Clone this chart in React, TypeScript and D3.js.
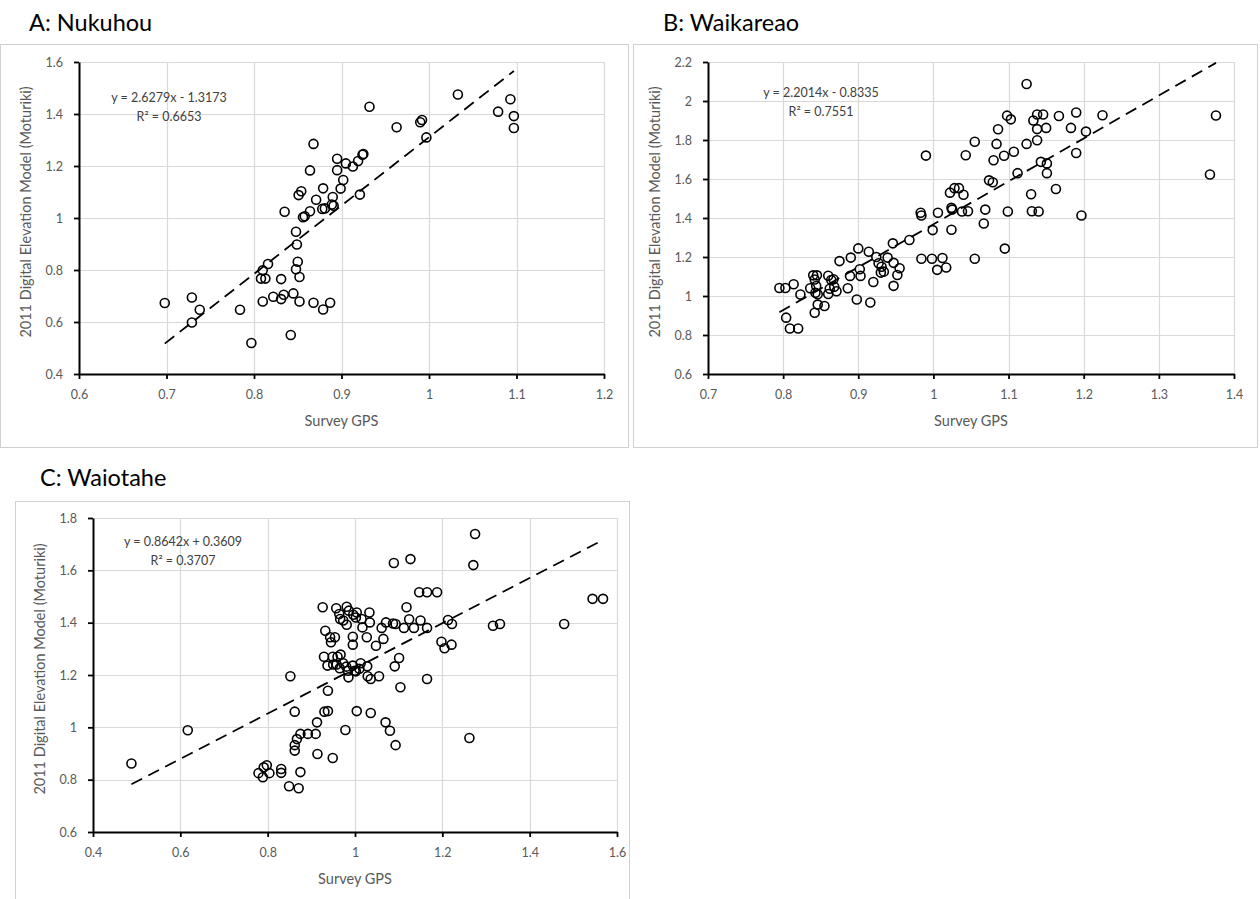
import React, { useEffect, useRef } from "react";
import * as d3 from "d3";

// [Survey GPS, DEM] pairs
const nukuhouPoints = [
  [0.698, 0.673], [0.729, 0.694], [0.729, 0.598], [0.738, 0.647], [0.784, 0.647], [0.797, 0.519],
  [0.810, 0.799], [0.808, 0.767], [0.813, 0.767], [0.816, 0.823], [0.810, 0.679], [0.822, 0.697],
  [0.831, 0.765], [0.831, 0.688], [0.834, 0.705], [0.835, 1.024], [0.845, 0.710], [0.842, 0.550],
  [0.848, 0.947], [0.849, 0.898], [0.850, 0.832], [0.848, 0.803], [0.852, 0.773], [0.852, 0.679],
  [0.851, 1.088], [0.854, 1.103], [0.856, 1.003], [0.858, 1.007], [0.864, 1.026], [0.864, 1.183],
  [0.868, 1.285], [0.871, 1.070], [0.868, 0.674], [0.878, 1.035], [0.881, 1.037], [0.879, 1.114],
  [0.879, 0.648], [0.887, 0.674], [0.889, 1.052], [0.890, 1.081], [0.891, 1.047], [0.895, 1.228],
  [0.895, 1.184], [0.899, 1.113], [0.902, 1.146], [0.905, 1.210], [0.913, 1.198], [0.919, 1.219],
  [0.924, 1.243], [0.925, 1.246], [0.921, 1.090], [0.932, 1.428], [0.963, 1.349], [0.990, 1.368],
  [0.992, 1.377], [0.997, 1.310], [1.033, 1.475], [1.079, 1.409], [1.093, 1.457], [1.097, 1.392],
  [1.097, 1.346],
];

const waikareaoPoints = [
  [0.795, 1.041], [0.803, 1.041], [0.804, 0.889], [0.809, 0.833], [0.820, 0.833], [0.814, 1.060],
  [0.823, 1.008], [0.836, 1.040], [0.840, 1.106], [0.845, 1.106], [0.842, 1.085], [0.844, 1.051],
  [0.843, 1.017], [0.846, 1.009], [0.846, 0.956], [0.842, 0.914], [0.855, 0.949], [0.860, 1.104],
  [0.860, 1.010], [0.862, 1.037], [0.864, 1.082], [0.867, 1.086], [0.868, 1.048], [0.871, 1.024],
  [0.875, 1.179], [0.886, 1.040], [0.889, 1.103], [0.890, 1.197], [0.898, 0.982], [0.900, 1.244],
  [0.902, 1.137], [0.903, 1.103], [0.916, 0.967], [0.914, 1.227], [0.920, 1.072], [0.924, 1.200],
  [0.927, 1.168], [0.930, 1.120], [0.931, 1.150], [0.934, 1.125], [0.939, 1.197], [0.947, 1.170],
  [0.947, 1.052], [0.946, 1.270], [0.952, 1.108], [0.955, 1.142], [0.968, 1.287], [0.983, 1.427],
  [0.984, 1.413], [0.984, 1.191], [0.990, 1.720], [0.998, 1.191], [0.999, 1.338], [1.006, 1.427],
  [1.005, 1.134], [1.012, 1.195], [1.017, 1.146], [1.022, 1.530], [1.024, 1.452], [1.025, 1.443],
  [1.024, 1.340], [1.028, 1.553], [1.034, 1.553], [1.040, 1.519], [1.038, 1.433], [1.046, 1.435],
  [1.043, 1.722], [1.055, 1.791], [1.055, 1.191], [1.067, 1.372], [1.069, 1.443], [1.074, 1.593],
  [1.079, 1.583], [1.080, 1.696], [1.084, 1.780], [1.086, 1.855], [1.095, 1.243], [1.094, 1.719],
  [1.098, 1.925], [1.103, 1.906], [1.099, 1.433], [1.107, 1.740], [1.112, 1.630], [1.124, 2.087],
  [1.124, 1.780], [1.130, 1.522], [1.131, 1.435], [1.133, 1.900], [1.138, 1.799], [1.138, 1.856],
  [1.138, 1.931], [1.140, 1.433], [1.143, 1.688], [1.146, 1.931], [1.150, 1.862], [1.151, 1.680],
  [1.151, 1.630], [1.163, 1.549], [1.167, 1.923], [1.183, 1.862], [1.190, 1.941], [1.190, 1.733],
  [1.197, 1.413], [1.203, 1.843], [1.225, 1.927], [1.368, 1.623], [1.376, 1.926],
];

const waiotahePoints = [
  [0.488, 0.862], [0.617, 0.989], [0.779, 0.825], [0.789, 0.809], [0.791, 0.847], [0.798, 0.855],
  [0.804, 0.825], [0.831, 0.841], [0.831, 0.826], [0.849, 0.775], [0.871, 0.767], [0.875, 0.829],
  [0.852, 1.195], [0.862, 1.060], [0.862, 0.911], [0.862, 0.932], [0.867, 0.955], [0.875, 0.975],
  [0.892, 0.975], [0.910, 0.975], [0.913, 1.019], [0.914, 0.898], [0.930, 1.060], [0.938, 1.062],
  [0.949, 0.883], [0.938, 1.140], [0.978, 0.990], [1.004, 1.062], [1.036, 1.055], [1.070, 1.019],
  [1.080, 0.987], [1.093, 0.932], [1.262, 0.959],
  [0.926, 1.459], [0.932, 1.369], [0.943, 1.344], [0.945, 1.325], [0.954, 1.344], [0.929, 1.270],
  [0.937, 1.236], [0.957, 1.455], [0.964, 1.433], [0.966, 1.414], [0.973, 1.408], [0.981, 1.392],
  [0.981, 1.461], [0.986, 1.446], [0.996, 1.430], [1.004, 1.439], [1.002, 1.420], [1.015, 1.414],
  [1.033, 1.439], [1.034, 1.401], [1.017, 1.382], [0.995, 1.346], [0.995, 1.316], [1.027, 1.344],
  [1.048, 1.312], [1.065, 1.338], [1.061, 1.380], [1.071, 1.401], [1.087, 1.397], [1.093, 1.395],
  [1.112, 1.380], [1.135, 1.380], [1.150, 1.408], [1.118, 1.459], [1.147, 1.516], [1.165, 1.516],
  [1.188, 1.516], [1.089, 1.628], [1.127, 1.643], [1.275, 1.739], [1.271, 1.620], [1.165, 1.380],
  [1.213, 1.410], [1.222, 1.395], [1.198, 1.327], [1.205, 1.302], [1.221, 1.316], [1.165, 1.185],
  [1.104, 1.153], [1.101, 1.265], [1.091, 1.233], [1.055, 1.195], [1.036, 1.185], [1.029, 1.195],
  [0.985, 1.191], [1.002, 1.214], [1.013, 1.245], [1.028, 1.233], [0.949, 1.270], [0.960, 1.270],
  [0.967, 1.278], [0.950, 1.240], [0.958, 1.240], [0.965, 1.226], [0.973, 1.245], [0.980, 1.232],
  [0.984, 1.216], [0.995, 1.236], [1.010, 1.224], [0.999, 1.216], [1.124, 1.413], [1.316, 1.388],
  [1.332, 1.395], [1.479, 1.395], [1.544, 1.491], [1.568, 1.491],
];

const titles = ["A: Nukuhou", "B: Waikareao", "C: Waiotahe"];
const xTicksA = [0.6, 0.7, 0.8, 0.9, 1, 1.1, 1.2];
const yTicksA = [0.4, 0.6, 0.8, 1, 1.2, 1.4, 1.6];
const xTicksB = [0.7, 0.8, 0.9, 1, 1.1, 1.2, 1.3, 1.4];
const yTicksB = [0.6, 0.8, 1, 1.2, 1.4, 1.6, 1.8, 2, 2.2];
const xTicksC = [0.4, 0.6, 0.8, 1, 1.2, 1.4, 1.6];
const yTicksC = [0.6, 0.8, 1, 1.2, 1.4, 1.6, 1.8];
const slopes = [2.6279, 2.2014, 0.8642];
const intercepts = [-1.3173, -0.8335, 0.3609];
const rSquared = [0.6653, 0.7551, 0.3707];

// layout of each panel (pixels)
const layouts = [
  { left: 79, right: 604, top: 62, bottom: 374, frame: [0.5, 44.5, 628, 403], titleX: 29, titleY: 31, eqDx: 90, eqY: 102 },
  { left: 708, right: 1234, top: 62, bottom: 374, frame: [633.5, 44.5, 624, 403], titleX: 663, titleY: 31, eqDx: 113, eqY: 97 },
  { left: 93, right: 617, top: 518, bottom: 832, frame: [15.5, 501.5, 614, 420], titleX: 40, titleY: 486, eqDx: 90, eqY: 546 },
];

const FONT = "Lato, 'Open Sans', sans-serif";
const fmt = (d: number) => String(+d.toFixed(1));

function drawPanel(svg: any, i: number, points: number[][], xTicks: number[], yTicks: number[]) {
  const p = layouts[i];
  const x = d3.scaleLinear().domain([xTicks[0], xTicks[xTicks.length - 1]]).range([p.left, p.right]);
  const y = d3.scaleLinear().domain([yTicks[0], yTicks[yTicks.length - 1]]).range([p.bottom, p.top]);
  const g = svg.append("g");

  g.append("rect")
    .attr("x", p.frame[0]).attr("y", p.frame[1])
    .attr("width", p.frame[2]).attr("height", p.frame[3])
    .attr("fill", "none").attr("stroke", "#d0d0d0").attr("stroke-width", 1);

  g.append("text").attr("x", p.titleX).attr("y", p.titleY)
    .attr("font-family", FONT).attr("font-size", 23.5).attr("fill", "#000")
    .text(titles[i]);

  // gridlines
  g.selectAll(".vg").data(xTicks.slice(1)).join("line").attr("class", "vg")
    .attr("x1", (d: number) => Math.round(x(d)) + 0.5).attr("x2", (d: number) => Math.round(x(d)) + 0.5)
    .attr("y1", p.top).attr("y2", p.bottom)
    .attr("stroke", "#d9d9d9").attr("stroke-width", 1.2);
  g.selectAll(".hg").data(yTicks.slice(1)).join("line").attr("class", "hg")
    .attr("y1", (d: number) => Math.round(y(d)) + 0.5).attr("y2", (d: number) => Math.round(y(d)) + 0.5)
    .attr("x1", p.left).attr("x2", p.right)
    .attr("stroke", "#d9d9d9").attr("stroke-width", 1.2);

  // axes
  const xAxis = g.append("g").attr("transform", `translate(0,${p.bottom})`)
    .call(d3.axisBottom(x).tickValues(xTicks).tickSize(5).tickSizeOuter(0).tickPadding(11).tickFormat(fmt as any));
  const yAxis = g.append("g").attr("transform", `translate(${p.left},0)`)
    .call(d3.axisLeft(y).tickValues(yTicks).tickSize(5).tickSizeOuter(0).tickPadding(11).tickFormat(fmt as any));
  [xAxis, yAxis].forEach((a: any) => {
    a.select(".domain").attr("stroke", "#000").attr("stroke-width", 2);
    a.selectAll(".tick line").attr("stroke", "#000").attr("stroke-width", 1.8);
    a.selectAll(".tick text").attr("fill", "#595959").attr("font-family", FONT).attr("font-size", 12.5);
  });

  // axis titles
  g.append("text").attr("x", (p.left + p.right) / 2).attr("y", p.bottom + 52)
    .attr("text-anchor", "middle").attr("font-family", FONT).attr("font-size", 14.5).attr("fill", "#595959")
    .text("Survey GPS");
  g.append("text")
    .attr("transform", `translate(${p.left - 48},${(p.top + p.bottom) / 2 - 6}) rotate(-90)`)
    .attr("text-anchor", "middle").attr("font-family", FONT).attr("font-size", 14.5).attr("fill", "#595959")
    .text("2011 Digital Elevation Model (Moturiki)");

  // trend line
  const xs = points.map((d) => d[0]);
  const x0 = d3.min(xs) as number;
  const x1 = d3.max(xs) as number;
  const line = d3.line<number>().x((d) => x(d)).y((d) => y(slopes[i] * d + intercepts[i]));
  g.append("path").attr("d", line([x0, x1]))
    .attr("fill", "none").attr("stroke", "#000").attr("stroke-width", 1.8).attr("stroke-dasharray", "12,7");

  // points
  g.selectAll(".pt").data(points).join("circle").attr("class", "pt")
    .attr("cx", (d: number[]) => x(d[0])).attr("cy", (d: number[]) => y(d[1]))
    .attr("r", 4.5).attr("fill", "none").attr("stroke", "#000").attr("stroke-width", 1.6);

  // equation
  const b = intercepts[i];
  const eq = `y = ${slopes[i].toFixed(4)}x ${b < 0 ? "-" : "+"} ${Math.abs(b).toFixed(4)}`;
  g.append("text").attr("x", p.left + p.eqDx).attr("y", p.eqY)
    .attr("text-anchor", "middle").attr("font-family", FONT).attr("font-size", 12.5).attr("fill", "#404040")
    .text(eq);
  g.append("text").attr("x", p.left + p.eqDx).attr("y", p.eqY + 19)
    .attr("text-anchor", "middle").attr("font-family", FONT).attr("font-size", 12.5).attr("fill", "#404040")
    .text(`R² = ${rSquared[i].toFixed(4)}`);
}

export default function App() {
  const ref = useRef<SVGSVGElement>(null);

  useEffect(() => {
    const svg = d3.select(ref.current);
    svg.selectAll("*").remove();
    drawPanel(svg, 0, nukuhouPoints, xTicksA, yTicksA);
    drawPanel(svg, 1, waikareaoPoints, xTicksB, yTicksB);
    drawPanel(svg, 2, waiotahePoints, xTicksC, yTicksC);
  }, []);

  return (
    <svg
      ref={ref}
      width={1260}
      height={899}
      style={{ position: "absolute", left: 0, top: 0, background: "#fff" }}
    />
  );
}
